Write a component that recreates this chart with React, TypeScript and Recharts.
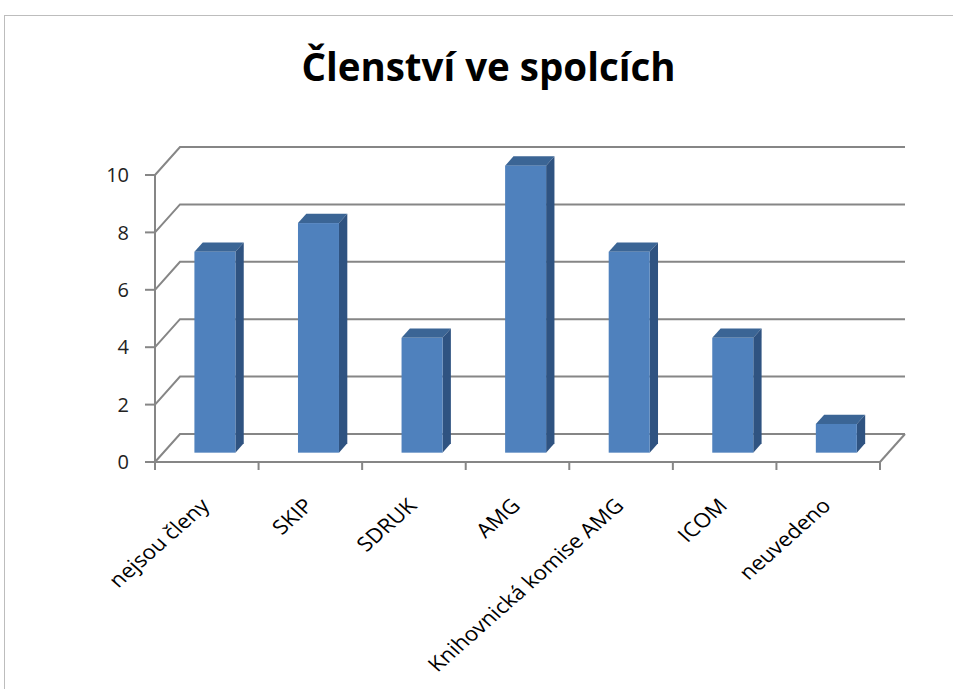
import { Bar, BarChart, CartesianGrid, XAxis, YAxis } from 'recharts';

const categories = ['nejsou členy', 'SKIP', 'SDRUK', 'AMG', 'Knihovnická komise AMG', 'ICOM', 'neuvedeno'];
const members = [7, 8, 4, 10, 7, 4, 1];
const yTicks = [0, 2, 4, 6, 8, 10];

const data = categories.map((name, i) => ({ name, v: members[i] }));

const W = 953;
const H = 689;
const AXIS_W = 155;
const AXIS_H = 227;
const M = { top: 175, right: 73, bottom: 0, left: 0 };
const BAND = (W - AXIS_W - M.right) / categories.length;
// wall depth offset of the 3D frame
const DX = 25;
const DY = 28;
const grid = '#868686';
const font = '"Open Sans", sans-serif';

function GridLine(p: any) {
  const { x1, y1, x2 } = p;
  const isFloor = p.y != null && p.height != null && Math.abs(y1 - (p.y + p.height)) < 1;
  return (
    <g key={p.key}>
      <polyline points={`${x1},${y1} ${x1 + DX},${y1 - DY} ${x2 + DX},${y1 - DY}`} fill="none" stroke={grid} strokeWidth={2} />
      {isFloor && <line x1={x2} y1={y1} x2={x2 + DX} y2={y1 - DY} stroke={grid} strokeWidth={2} />}
    </g>
  );
}

function Box(p: any) {
  const { x, y, width: w, height: h } = p;
  const fx = x + DX / 3;
  const fy = y - DY / 3;
  const bx = DX / 3;
  const by = DY / 3;
  return (
    <g>
      <polygon points={`${fx},${fy} ${fx + w},${fy} ${fx + w + bx},${fy - by} ${fx + bx},${fy - by}`} fill="#3b6595" />
      <polygon points={`${fx + w},${fy} ${fx + w + bx},${fy - by} ${fx + w + bx},${fy + h - by} ${fx + w},${fy + h}`} fill="#2f5381" />
      <rect x={fx} y={fy} width={w} height={h} fill="#4f81bd" />
    </g>
  );
}

function CatTick(p: any) {
  const { x, y, payload, index } = p;
  return (
    <g>
      <line x1={x - BAND / 2} y1={y - 8} x2={x - BAND / 2} y2={y} stroke={grid} strokeWidth={2} />
      {index === categories.length - 1 && (
        <line x1={x + BAND / 2} y1={y - 8} x2={x + BAND / 2} y2={y} stroke={grid} strokeWidth={2} />
      )}
      <text
        transform={`translate(${x + 4},${y + 37}) scale(1.13,1) rotate(-45)`}
        textAnchor="end"
        fontSize={20}
        fontFamily={font}
        fill="#000"
      >
        {payload.value}
      </text>
    </g>
  );
}

export default function App() {
  return (
    <div style={{ position: 'absolute', left: 0, top: 0, width: W, height: H, background: '#fff', overflow: 'hidden' }}>
      <div style={{ position: 'absolute', left: 4, top: 15, width: W - 4, height: H - 15, borderLeft: '1px solid #bdbdbd', borderTop: '1px solid #bdbdbd' }} />
      <div
        style={{
          position: 'absolute', left: 12, top: 40, width: W, textAlign: 'center',
          fontFamily: font, fontWeight: 700, fontSize: 38.5, color: '#000',
        }}
      >
        Členství ve spolcích
      </div>
      <div style={{ position: 'absolute', left: 0, top: 0 }}>
        <BarChart width={W} height={H} data={data} margin={M} barCategoryGap="30%">
          <CartesianGrid vertical={false} horizontal={GridLine} />
          <XAxis
            dataKey="name"
            interval={0}
            height={AXIS_H}
            tickLine={false}
            axisLine={{ stroke: grid, strokeWidth: 2 }}
            tick={CatTick}
          />
          <YAxis
            domain={[0, 10]}
            ticks={yTicks}
            width={AXIS_W}
            axisLine={{ stroke: grid, strokeWidth: 2 }}
            tickLine={{ stroke: grid, strokeWidth: 2 }}
            tickSize={10}
            tick={{ fontSize: 20, fontFamily: font, fill: '#222', dx: -14 }}
          />
          <Bar dataKey="v" shape={Box} isAnimationActive={false} />
        </BarChart>
      </div>
    </div>
  );
}
